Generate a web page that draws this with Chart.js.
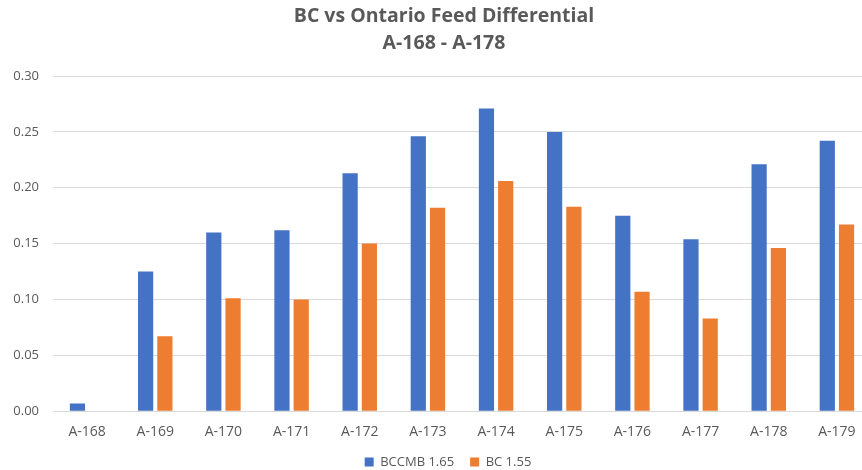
<!DOCTYPE html>
<html>
<head>
<meta charset="utf-8">
<script src="https://cdn.jsdelivr.net/npm/chart.js@4.4.1/dist/chart.umd.min.js"></script>
<style>
html,body{margin:0;padding:0;background:#fff;overflow:hidden;}
#wrap{width:862px;height:470px;position:relative;overflow:hidden;}
canvas{display:block;}
</style>
</head>
<body>
<div id="wrap"><canvas id="c" width="888" height="470"></canvas></div>
<script>
const categories = ["A-168","A-169","A-170","A-171","A-172","A-173","A-174","A-175","A-176","A-177","A-178","A-179"];
const bccmb = [0.007,0.125,0.160,0.162,0.213,0.246,0.271,0.250,0.175,0.154,0.221,0.242];
const bc = [0,0.067,0.101,0.100,0.150,0.182,0.206,0.183,0.107,0.083,0.146,0.167];
const seriesNames = ["BCCMB 1.65","BC 1.55"];
const titleLines = ["BC vs Ontario Feed Differential","A-168 - A-178"];

const FONT = "'Open Sans', sans-serif";
const GREY = "#595959";

// The reference is a cropped, wider chart: centre title and legend as it does.
const centerShift = {
  id: 'centerShift',
  afterLayout(chart) {
    const shiftTo = (box, cx) => {
      if (!box) return;
      const dx = cx - (box.left + box.right) / 2;
      box.left += dx; box.right += dx;
    };
    shiftTo(chart.titleBlock, 444);
    shiftTo(chart.legend, 448);
    const lg = chart.legend;
    if (lg) {
      const h = lg.bottom - lg.top;
      lg.top = 439.5; lg.bottom = lg.top + h;
    }
  }
};

new Chart(document.getElementById('c'), {
  type: 'bar',
  data: {
    labels: categories,
    datasets: [
      {label: seriesNames[0], data: bccmb, backgroundColor: '#4472C4', borderWidth: 0},
      {label: seriesNames[1], data: bc, backgroundColor: '#ED7D31', borderWidth: 0}
    ]
  },
  plugins: [centerShift],
  options: {
    responsive: false,
    animation: false,
    devicePixelRatio: 1,
    datasets: {bar: {categoryPercentage: 0.565, barPercentage: 0.79}},
    layout: {padding: {left: 0, right: 17, top: 3, bottom: -21}},
    plugins: {
      title: {
        display: true,
        text: titleLines,
        color: GREY,
        font: {family: FONT, size: 19.5, weight: 'bold', lineHeight: 1.385},
        padding: {top: 0, bottom: 19}
      },
      legend: {
        position: 'bottom',
        labels: {
          color: GREY,
          font: {family: FONT, size: 13},
          boxWidth: 9, boxHeight: 9,
          padding: 16
        }
      },
      tooltip: {enabled: false}
    },
    scales: {
      x: {
        grid: {display: false, drawTicks: false},
        border: {display: false},
        ticks: {color: GREY, font: {family: FONT, size: 14}, padding: 12, maxRotation: 0}
      },
      y: {
        min: 0, max: 0.30,
        afterFit: (s) => { s.width = 53; },
        grid: {color: '#d9d9d9', lineWidth: 1, drawTicks: false},
        border: {display: false},
        ticks: {
          stepSize: 0.05,
          color: GREY,
          font: {family: FONT, size: 13},
          padding: 14,
          callback: (v) => Number(v).toFixed(2)
        }
      }
    }
  }
});
</script>
</body>
</html>
